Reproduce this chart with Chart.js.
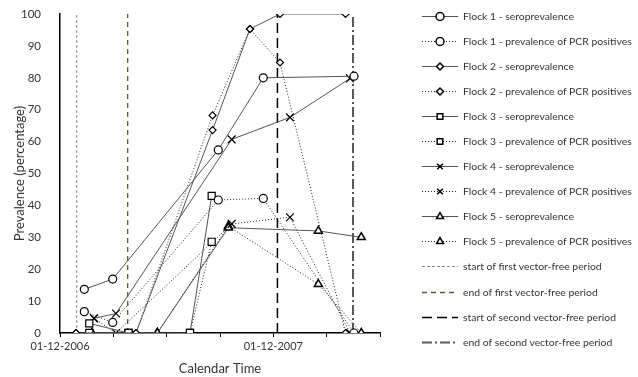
<!DOCTYPE html>
<html>
<head>
<meta charset="utf-8">
<script src="https://cdn.jsdelivr.net/npm/chart.js@4/dist/chart.umd.min.js"></script>
<style>
  body { margin: 0; background: #fff; }
  #wrap { position: relative; width: 638px; height: 377px; }
  #legend { position: absolute; left: 421px; top: 3px; font-family: Lato, sans-serif; font-size: 10.4px; color: #333; }
  .row { height: 25.1px; display: flex; align-items: center; white-space: nowrap; }
  .row canvas { margin-right: 4px; }
</style>
</head>
<body>
<div id="wrap">
  <canvas id="chart" width="638" height="377"></canvas>
  <div id="legend"></div>
</div>
<script>
// x values are days since 01-12-2006
const xTickDays = [0, 91.25, 182.5, 273.75, 365, 456.25, 547.5];
const xLabelDays = [0, 365];
const xLabelText = ['01-12-2006', '01-12-2007'];

const flock1Days = [41.6, 90.2, 270.8, 347.8, 503];
const flock1Sero = [13.7, 16.9, 57.4, 80, 80.5];
const flock1Pcr = [6.7, 3.3, 41.7, 42.2, 0];

const flock2Days = [27.4, 130, 261, 325, 376.4, 488.5];
const flock2Sero = [0, 0, 63.6, 95.3, 100, 100];
const flock2Pcr = [0, 0, 68.2, 95.3, 84.8, 0];

const flock3Days = [50.1, 117.2, 222.4, 259.5];
const flock3Sero = [3, 0, 0, 43];
const flock3Pcr = [0, 0, 0, 28.6];

const flock4Days = [58.2, 95.8, 293.8, 393.5, 496.2];
const flock4Sero = [4.6, 6.1, 60.7, 67.6, 79.8];
const flock4Pcr = [4.6, 0, 34.2, 36.3, 0];

const flock5Days = [54.7, 166.5, 288, 442, 515.5];
const flock5Sero = [0, 0, 33, 32, 30];
const flock5Pcr = [0, 0, 33.5, 15.3, 0];

const periodNames = ['start of first vector-free period', 'end of first vector-free period',
  'start of second vector-free period', 'end of second vector-free period'];
const periodDays = [28.6, 115.8, 372, 501.3];

const toPoints = (days, vals) => days.map((d, i) => ({ x: d, y: vals[i] }));

const flockSeries = [
  ['Flock 1', flock1Days, flock1Sero, flock1Pcr, 'circle', 4],
  ['Flock 2', flock2Days, flock2Sero, flock2Pcr, 'rectRot', 3.5],
  ['Flock 3', flock3Days, flock3Sero, flock3Pcr, 'rect', 5],
  ['Flock 4', flock4Days, flock4Sero, flock4Pcr, 'crossRot', 5.5],
  ['Flock 5', flock5Days, flock5Sero, flock5Pcr, 'triangle', 4.6],
];

const datasets = [];
flockSeries.forEach(([name, days, sero, pcr, shape, r]) => {
  const marker = {
    pointStyle: shape,
    pointRadius: r,
    pointHoverRadius: r,
    pointBackgroundColor: '#fff',
    pointBorderColor: '#000',
    pointBorderWidth: shape === 'triangle' ? 1.5 : 1.2,
    showLine: true,
    borderWidth: 1,
  };
  datasets.push({ label: name + ' - seroprevalence', data: toPoints(days, sero), borderColor: '#555', ...marker });
  datasets.push({ label: name + ' - prevalence of PCR positives', data: toPoints(days, pcr), borderColor: '#222', borderDash: [1, 2], ...marker });
});

const periodStyles = [
  { borderColor: '#8c8c8c', borderDash: [3, 2], borderWidth: 1 },
  { borderColor: '#4a6b1f', borderDash: [5, 4], borderWidth: 1.3 },
  { borderColor: '#000', borderDash: [10, 5], borderWidth: 1.5 },
  { borderColor: '#595959', borderDash: [10, 3, 2, 3], borderWidth: 2 },
];
periodNames.forEach((name, i) => {
  datasets.push({
    label: name,
    data: [{ x: periodDays[i], y: 0 }, { x: periodDays[i], y: 100 }],
    showLine: true,
    pointRadius: 0,
    ...periodStyles[i],
  });
});

Chart.defaults.font.family = 'Lato, sans-serif';
Chart.defaults.color = '#333';

const chart = new Chart(document.getElementById('chart'), {
  type: 'scatter',
  data: { datasets },
  options: {
    responsive: false,
    animation: false,
    layout: { padding: { top: 14, right: 258, left: 0, bottom: 0 } },
    plugins: { legend: { display: false }, tooltip: { enabled: false } },
    scales: {
      x: {
        type: 'linear',
        min: 0,
        max: 547.5,
        afterBuildTicks: (scale) => { scale.ticks = xTickDays.map(v => ({ value: v })); },
        afterFit: (scale) => { scale.height = 44; },
        ticks: {
          autoSkip: false,
          maxRotation: 0,
          padding: 3,
          font: { size: 11 },
          callback: (v) => { const i = xLabelDays.indexOf(v); return i >= 0 ? xLabelText[i] : ''; },
        },
        grid: { drawOnChartArea: false, drawTicks: true, tickLength: 4, color: '#000' },
        border: { color: '#000', width: 1.5 },
        title: { display: true, text: 'Calendar Time', font: { size: 13 }, padding: { top: 0, bottom: 0 } },
      },
      y: {
        min: 0,
        max: 100,
        afterFit: (scale) => { scale.width = 60; scale.paddingTop = 6; },
        ticks: { stepSize: 10, padding: 11, font: { size: 11.5 } },
        grid: { display: false },
        border: { color: '#000', width: 1.5 },
        title: { display: true, text: 'Prevalence (percentage)', font: { size: 13 }, padding: { top: 12, bottom: 0 } },
      },
    },
  },
});

// html legend built from the datasets
const legendBox = document.getElementById('legend');
chart.data.datasets.forEach(ds => {
  const row = document.createElement('div');
  row.className = 'row';
  const c = document.createElement('canvas');
  c.width = 38; c.height = 14;
  const g = c.getContext('2d');
  g.strokeStyle = ds.borderColor;
  g.lineWidth = ds.borderWidth || 1;
  g.setLineDash(ds.borderDash || []);
  g.beginPath(); g.moveTo(1, 7.5); g.lineTo(37, 7.5); g.stroke();
  g.setLineDash([]);
  if (ds.pointRadius) {
    g.fillStyle = '#fff';
    g.strokeStyle = '#000';
    g.lineWidth = 1.5;
    Chart.helpers.drawPoint(g, { pointStyle: ds.pointStyle, radius: Math.min(ds.pointRadius, 4), rotation: 0, borderWidth: 1.5 }, 19, 7.5);
  }
  const t = document.createElement('span');
  t.textContent = ds.label;
  row.appendChild(c);
  row.appendChild(t);
  legendBox.appendChild(row);
});
</script>
</body>
</html>
